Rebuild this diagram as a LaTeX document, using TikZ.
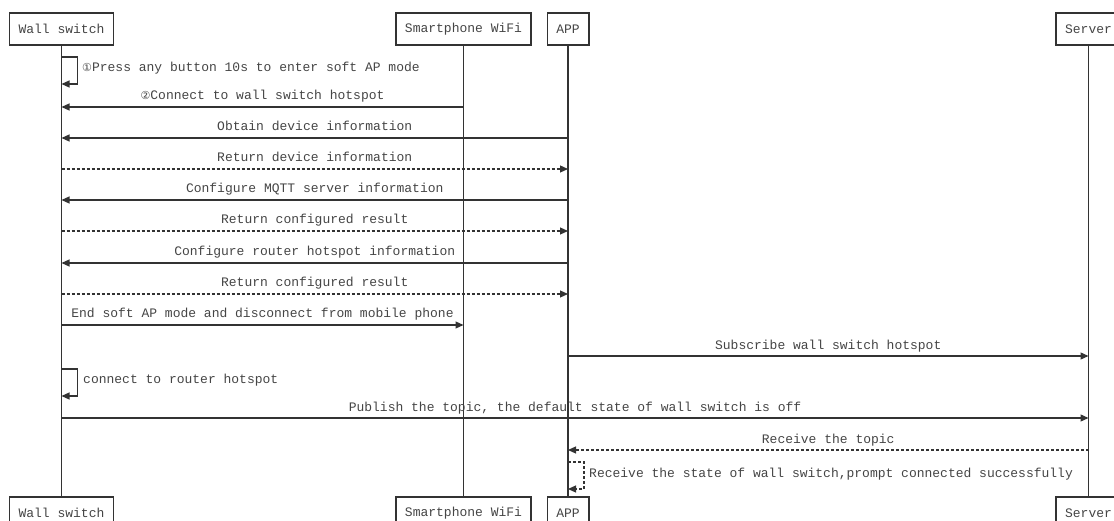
\documentclass[tikz,border=0pt]{standalone}
\usepackage{fontspec}
\setmonofont{Liberation Mono}
\newfontfamily\dejavu{DejaVu Sans}
\usetikzlibrary{arrows.meta,calc}
\definecolor{ln}{HTML}{333333}
\definecolor{tx}{HTML}{454545}
\newcommand{\cnum}[1]{{\dejavu\fontsize{11}{11}\selectfont #1}}
\tikzset{
  actor/.style={draw=ln, line width=1.6pt, fill=white, minimum height=32pt,
    inner xsep=9pt, inner ysep=0pt, font=\ttfamily\fontsize{13}{13}\selectfont, text=tx},
  lifeline/.style={draw=ln, line width=1.5pt},
  msg/.style={draw=ln, line width=1.2pt, -{Triangle[length=8pt,width=7pt]}},
  ret/.style={msg, dash pattern=on 3pt off 2pt},
  lbl/.style={font=\ttfamily\fontsize{13}{13}\selectfont, text=tx, inner sep=0pt, anchor=base, yshift=7pt},
  slbl/.style={font=\ttfamily\fontsize{13}{13}\selectfont, text=tx, inner sep=0pt, anchor=base west},
}
\begin{document}
\begin{tikzpicture}[x=1pt,y=-1pt]
\useasboundingbox (0,0) rectangle (1114,521);
\clip (0,0) rectangle (1114,521);
% actors
\node[actor] (wsT) at (61.5,29) {Wall switch};
\node[actor] (spT) at (463.5,29) {Smartphone WiFi};
\node[actor] (apT) at (568,29) {APP};
\node[actor] (svT) at (1088.5,29) {Server};
\node[actor] (wsB) at (61.5,513) {Wall switch};
\node[actor] (spB) at (463.5,513) {Smartphone WiFi};
\node[actor] (apB) at (568,513) {APP};
\node[actor] (svB) at (1088.5,513) {Server};
% lifelines
\draw[lifeline] (wsT) -- (wsB);
\draw[lifeline] (spT) -- (spB);
\draw[lifeline] (apT) -- (apB);
\draw[lifeline] (svT) -- (svB);
% 1 self
\draw[msg] (wsT |- 0,57) -- ++(16,0) -- ++(0,27) -- (wsT |- 0,84);
\node[slbl] (m1) at (82,72) {\cnum{①}Press any button 10s to enter soft AP mode};
% 2
\draw[msg] (spT |- 0,107) -- node[lbl] (m2) {\cnum{②}Connect to wall switch hotspot} (wsT |- 0,107);
% 3
\draw[msg] (apT |- 0,138) -- node[lbl] (m3) {Obtain device information} (wsT |- 0,138);
% 4
\draw[ret] (wsT |- 0,169) -- node[lbl] (m4) {Return device information} (apT |- 0,169);
% 5
\draw[msg] (apT |- 0,200) -- node[lbl] (m5) {Configure MQTT server information} (wsT |- 0,200);
% 6
\draw[ret] (wsT |- 0,231) -- node[lbl] (m6) {Return configured result} (apT |- 0,231);
% 7
\draw[msg] (apT |- 0,263) -- node[lbl] (m7) {Configure router hotspot information} (wsT |- 0,263);
% 8
\draw[ret] (wsT |- 0,294) -- node[lbl] (m8) {Return configured result} (apT |- 0,294);
% 9
\draw[msg] (wsT |- 0,325) -- node[lbl] (m9) {End soft AP mode and disconnect from mobile phone} (spT |- 0,325);
% 10
\draw[msg] (apT |- 0,356) -- node[lbl] (m10) {Subscribe wall switch hotspot} (svT |- 0,356);
% 11 self
\draw[msg] (wsT |- 0,369) -- ++(16,0) -- ++(0,27) -- (wsT |- 0,396);
\node[slbl] (m11) at (83,384) {connect to router hotspot};
% 12
\draw[msg] (wsT |- 0,418) -- node[lbl] (m12) {Publish the topic, the default state of wall switch is off} (svT |- 0,418);
% 13
\draw[ret] (svT |- 0,450) -- node[lbl] (m13) {Receive the topic} (apT |- 0,450);
% 14 self dashed
\draw[ret] (apT |- 0,462) -- ++(16,0) -- ++(0,27) -- (apT |- 0,489);
\node[slbl] (m14) at (589,477) {Receive the state of wall switch,prompt connected successfully};
\end{tikzpicture}
\end{document}
